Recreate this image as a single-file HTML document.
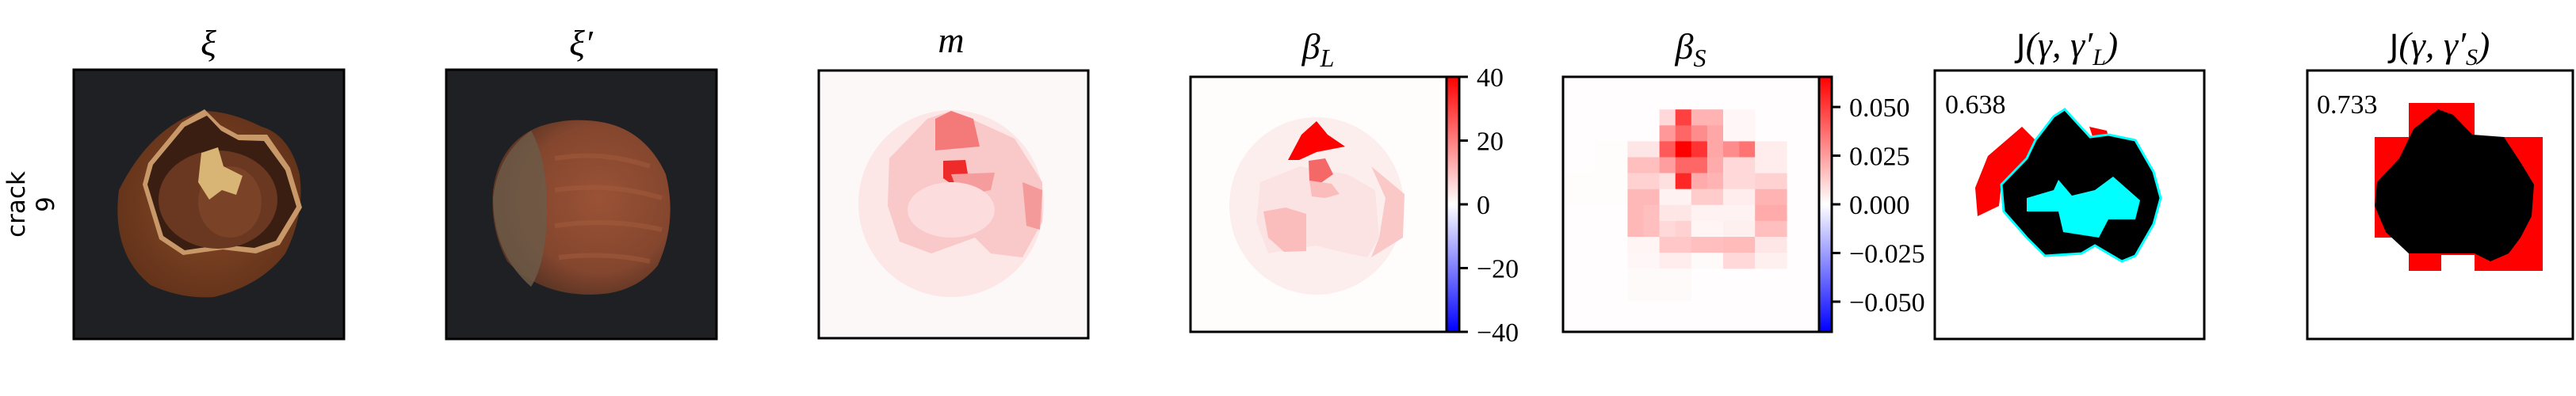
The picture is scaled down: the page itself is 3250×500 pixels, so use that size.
<!DOCTYPE html>
<html><head><meta charset="utf-8">
<style>
html,body{margin:0;padding:0;background:#fff;}
svg{display:block;}
.t{font-family:"Liberation Serif",serif;font-style:italic;font-size:46px;fill:#000;}
.tk{font-family:"Liberation Serif",serif;font-size:34px;fill:#000;}
.sl{font-family:"DejaVu Sans","Liberation Sans",sans-serif;font-size:31px;fill:#000;}
</style></head>
<body>
<svg id="fig" width="3250" height="500" viewBox="0 0 3250 500" xmlns="http://www.w3.org/2000/svg">
<defs>
<linearGradient id="bwr" x1="0" y1="1" x2="0" y2="0">
<stop offset="0" stop-color="#0000ff"/><stop offset="0.5" stop-color="#ffffff"/><stop offset="1" stop-color="#ff0000"/>
</linearGradient>
<radialGradient id="nut2g" cx="0.6" cy="0.45" r="0.6">
<stop offset="0" stop-color="#9a5236"/><stop offset="0.7" stop-color="#84462e"/><stop offset="1" stop-color="#5a3424"/>
</radialGradient>
<radialGradient id="nut1g" cx="0.5" cy="0.5" r="0.6">
<stop offset="0" stop-color="#8a4a28"/><stop offset="1" stop-color="#5e3018"/>
</radialGradient>
</defs>

<g>
<text class="sl" transform="translate(31,258) rotate(-90)" text-anchor="middle">crack</text>
<text class="sl" transform="translate(68,258) rotate(-90)" text-anchor="middle">9</text>
</g>

<g>
<text class="t" x="263" y="70" text-anchor="middle">ξ</text>
<rect x="93" y="88" width="341" height="340" fill="#1f2024"/>
<path d="M255,140 Q190,160 150,240 Q140,320 190,360 Q230,378 270,375 Q330,360 360,320 Q385,270 378,220 Q365,170 330,160 Q290,140 255,140 Z" fill="url(#nut1g)"/>
<path d="M258,138 L278,158 L300,170 L337,170 L366,212 L381,262 L353,309 L323,320 L281,315 L231,322 L201,302 L180,233 L187,206 L229,155 Z" fill="#c89868"/>
<path d="M261,146 L279,165 L301,177 L333,178 L360,215 L374,261 L348,304 L321,313 L281,309 L233,316 L206,298 L186,233 L193,208 L233,160 Z" fill="#3a1e12"/>
<ellipse cx="275" cy="252" rx="75" ry="62" fill="#6a3820"/>
<ellipse cx="290" cy="255" rx="40" ry="45" fill="#7a4226"/>
<path d="M254,193 L275,186 L282,210 L306,222 L298,246 L280,240 L264,252 L250,230 Z" fill="#d8b475"/>
<rect x="93" y="88" width="341" height="340" fill="none" stroke="#000" stroke-width="3"/>
</g>

<g>
<text class="t" x="733" y="70" text-anchor="middle">ξ′</text>
<rect x="563" y="88" width="341" height="340" fill="#1f2024"/>
<path d="M740,152 Q810,155 840,220 Q855,280 830,335 Q800,372 745,372 Q680,372 640,330 Q618,290 622,240 Q630,180 680,160 Q710,150 740,152 Z" fill="url(#nut2g)"/>
<path d="M670,165 Q628,195 622,250 Q622,320 670,362 Q690,330 690,262 Q690,200 670,165 Z" fill="#6c5a48" opacity="0.85"/>
<g stroke="#a45c3c" stroke-width="6" fill="none" opacity="0.5">
<path d="M700,200 Q760,190 820,210"/><path d="M700,240 Q770,230 835,250"/><path d="M700,285 Q770,275 835,290"/><path d="M705,325 Q765,318 820,330"/>
</g>
<rect x="563" y="88" width="341" height="340" fill="none" stroke="#000" stroke-width="3"/>
</g>

<g>
<text class="t" x="1200" y="66" text-anchor="middle">m</text>
<rect x="1033" y="89" width="340" height="338" fill="#fdf8f8"/>
<ellipse cx="1200" cy="257" rx="117" ry="118" fill="#fce6e6"/>
<path d="M1122,200 L1170,150 L1200,140 L1225,150 L1280,175 L1315,230 L1315,280 L1290,325 L1250,320 L1230,300 L1175,320 L1135,305 L1120,260 Z" fill="#f9c8c8"/>
<path d="M1180,150 L1200,140 L1228,150 L1236,185 L1180,190 Z" fill="#f47a7a"/>
<path d="M1190,203 L1218,202 L1222,225 L1200,232 L1190,225 Z" fill="#ee2a2a"/>
<path d="M1200,220 L1255,218 L1250,240 L1210,248 Z" fill="#f59c9c"/>
<path d="M1290,230 L1315,240 L1312,290 L1295,285 Z" fill="#f49a9a"/>
<ellipse cx="1200" cy="265" rx="55" ry="35" fill="#fcdcdc"/>
<rect x="1033" y="89" width="340" height="338" fill="none" stroke="#000" stroke-width="3"/>
</g>

<g>
<text class="t" x="1663" y="74" text-anchor="middle">β<tspan font-size="32" dy="10">L</tspan></text>
<rect x="1502" y="97" width="323" height="322" fill="#fffcfc"/>
<ellipse cx="1661" cy="260" rx="110" ry="112" fill="#fdeeee"/>
<path d="M1590,230 L1640,210 L1700,220 L1735,240 L1740,300 L1725,325 L1700,320 L1660,310 L1600,320 L1585,280 Z" fill="#fce3e3"/>
<path d="M1594,267 L1622,262 L1648,270 L1648,317 L1620,318 L1600,300 Z" fill="#fbbcbc"/>
<path d="M1730,210 L1772,245 L1770,300 L1730,325 L1740,300 L1748,250 Z" fill="#fbc8c8"/>
<path d="M1651,203 L1672,200 L1682,220 L1665,232 L1652,228 Z" fill="#f56868"/>
<path d="M1652,228 L1680,232 L1690,245 L1672,250 L1655,248 Z" fill="#fbbcbc"/>
<path d="M1661,153 L1675,170 L1697,185 L1661,192 L1639,202 L1625,202 L1642,170 Z" fill="#ff0000"/>
<rect x="1502" y="97" width="323" height="322" fill="none" stroke="#000" stroke-width="3"/>
<rect x="1825" y="97" width="16" height="322" fill="url(#bwr)" stroke="#000" stroke-width="3"/>
<g id="cbL"></g>
</g>

<g>
<text class="t" x="2133" y="74" text-anchor="middle">β<tspan font-size="32" dy="10">S</tspan></text>
<rect x="1972" y="97" width="323" height="322" fill="#fffdfd"/>
<g id="heat"></g>
<rect x="1972" y="97" width="323" height="322" fill="none" stroke="#000" stroke-width="3"/>
<rect x="2295" y="97" width="16" height="322" fill="url(#bwr)" stroke="#000" stroke-width="3"/>
<g id="cbS"></g>
</g>

<g>
<text class="t" x="2608" y="72" text-anchor="middle"><tspan font-style="normal" font-family="DejaVu Sans,sans-serif" font-size="40">J</tspan>(γ, γ′<tspan font-size="30" dy="10">L</tspan><tspan dy="-10">)</tspan></text>
<rect x="2441" y="89" width="340" height="339" fill="#fff"/>
<path d="M2551,160 L2508,197 L2492,237 L2495,273 L2522,260 L2525,233 L2557,200 L2568,177 Z" fill="#ff0000"/>
<path d="M2636,160 L2658,165 L2660,172 L2640,172 Z" fill="#ff0000"/>
<path d="M2605,138 L2637,173 L2660,170 L2694,177 L2717,217 L2726,250 L2717,283 L2694,323 L2677,330 L2643,310 L2626,320 L2580,323 L2557,300 L2528,267 L2525,233 L2557,200 L2568,177 L2591,147 Z" fill="#000" stroke="#00ffff" stroke-width="3"/>
<path d="M2597,227 L2614,247 L2643,240 L2666,223 L2700,253 L2694,277 L2660,277 L2648,300 L2603,293 L2597,267 L2557,267 L2557,250 L2591,240 Z" fill="#00ffff"/>
<rect x="2441" y="89" width="340" height="339" fill="none" stroke="#000" stroke-width="3"/>
<text class="tk" x="2454" y="143">0.638</text>
</g>

<g>
<text class="t" x="3078" y="72" text-anchor="middle"><tspan font-style="normal" font-family="DejaVu Sans,sans-serif" font-size="40">J</tspan>(γ, γ′<tspan font-size="30" dy="10">S</tspan><tspan dy="-10">)</tspan></text>
<rect x="2911" y="89" width="335" height="339" fill="#fff"/>
<g fill="#ff0000">
<rect x="3039" y="130" width="83" height="192"/>
<rect x="3039" y="300" width="41" height="42"/>
<rect x="2996" y="173" width="212" height="127"/>
<rect x="3122" y="173" width="86" height="169"/>
</g>
<path d="M3076,138 L3095,145 L3119,170 L3159,173 L3180,205 L3197,233 L3194,273 L3180,300 L3165,320 L3142,330 L3122,320 L3082,320 L3039,320 L3010,293 L2996,260 L2999,230 L3027,200 L3045,163 Z" fill="#000"/>
<rect x="2911" y="89" width="335" height="339" fill="none" stroke="#000" stroke-width="3"/>
<text class="tk" x="2923" y="143">0.733</text>
</g>
</svg>

<script>
const heatRows = [
 [0,0,0,0,0,0,0,0,0,0,0,0,0,0,0,0],
 [0,0,0,0,0,0,0,0,0,0,0,0,0,0,0,0],
 [0,0,0,0,0,0,0.15,0.75,0.3,0.3,0.03,0.03,0,0,0,0],
 [0,0,0,0,0,0,0.4,0.6,0.45,0.35,0.03,0.03,0,0,0,0],
 [0,0,0.01,0.01,0.1,0.1,0.65,1.0,0.8,0.35,0.45,0.55,0.07,0.07,0,0],
 [0,0,0.01,0.01,0.25,0.25,0.38,0.6,0.6,0.33,0.15,0.15,0.07,0.07,0,0],
 [0.01,0.01,0.01,0.01,0.18,0.18,0.12,0.85,0.33,0.3,0.15,0.15,0.18,0.18,0,0],
 [0.01,0.01,0.01,0.01,0.28,0.28,0.05,0.05,0.2,0.2,0.07,0.07,0.3,0.3,0,0],
 [0,0,0,0,0.28,0.25,0.1,0.1,0.05,0.05,0.05,0.05,0.33,0.33,0,0],
 [0,0,0,0,0.28,0.25,0.15,0.18,0.04,0.04,0.06,0.06,0.25,0.25,0,0],
 [0,0,0,0,0.04,0.04,0.22,0.22,0.25,0.25,0.27,0.27,0.1,0.1,0,0],
 [0,0,0,0,0.03,0.03,0.07,0.07,0.02,0.02,0.15,0.15,0.06,0.06,0,0],
 [0,0,0,0,0.02,0.02,0.02,0.02,0,0,0,0,0,0,0,0],
 [0,0,0,0,0.02,0.02,0.02,0.02,0,0,0,0,0,0,0,0],
 [0,0,0,0,0,0,0,0,0,0,0,0,0,0,0,0],
 [0,0,0,0,0,0,0,0,0,0,0,0,0,0,0,0]
];
const cbLTicks = [40, 20, 0, -20, -40];
const cbLLabels = ["40", "20", "0", "\u221220", "\u221240"];
const cbSTicks = [0.05, 0.025, 0, -0.025, -0.05];
const cbSLabels = ["0.050", "0.025", "0.000", "\u22120.025", "\u22120.050"];

const NS = "http://www.w3.org/2000/svg";
const hx = c => 1973 + c * 20.1;
const hy = r => 98 + r * 20.1;
const cbLy = v => 258 - v / 40 * 161;
const cbSy = v => 258 - v / 0.0655 * 161;
function bwr(v){ const g = Math.round(255 * (1 - Math.min(1, v))); return `rgb(255,${g},${g})`; }

const heat = document.getElementById('heat');
heatRows.forEach((row, r) => row.forEach((v, c) => {
  if (v <= 0) return;
  const el = document.createElementNS(NS, 'rect');
  el.setAttribute('x', hx(c)); el.setAttribute('y', hy(r));
  el.setAttribute('width', 20.3); el.setAttribute('height', 20.3);
  el.setAttribute('fill', bwr(v));
  
  
  heat.appendChild(el);
}));

function ticks(gid, vals, labels, yf, x0){
  const g = document.getElementById(gid);
  vals.forEach((v, i) => {
    const y = yf(v);
    const ln = document.createElementNS(NS, 'line');
    ln.setAttribute('x1', x0); ln.setAttribute('x2', x0 + 11);
    ln.setAttribute('y1', y); ln.setAttribute('y2', y);
    ln.setAttribute('stroke', '#000'); ln.setAttribute('stroke-width', 3);
    
    
    g.appendChild(ln);
    const t = document.createElementNS(NS, 'text');
    t.setAttribute('x', x0 + 22); t.setAttribute('y', y + 12);
    t.setAttribute('class', 'tk');
    t.textContent = labels[i];
    
    
    g.appendChild(t);
  });
}
ticks('cbL', cbLTicks, cbLLabels, cbLy, 1841);
ticks('cbS', cbSTicks, cbSLabels, cbSy, 2311);
</script>
</body></html>
